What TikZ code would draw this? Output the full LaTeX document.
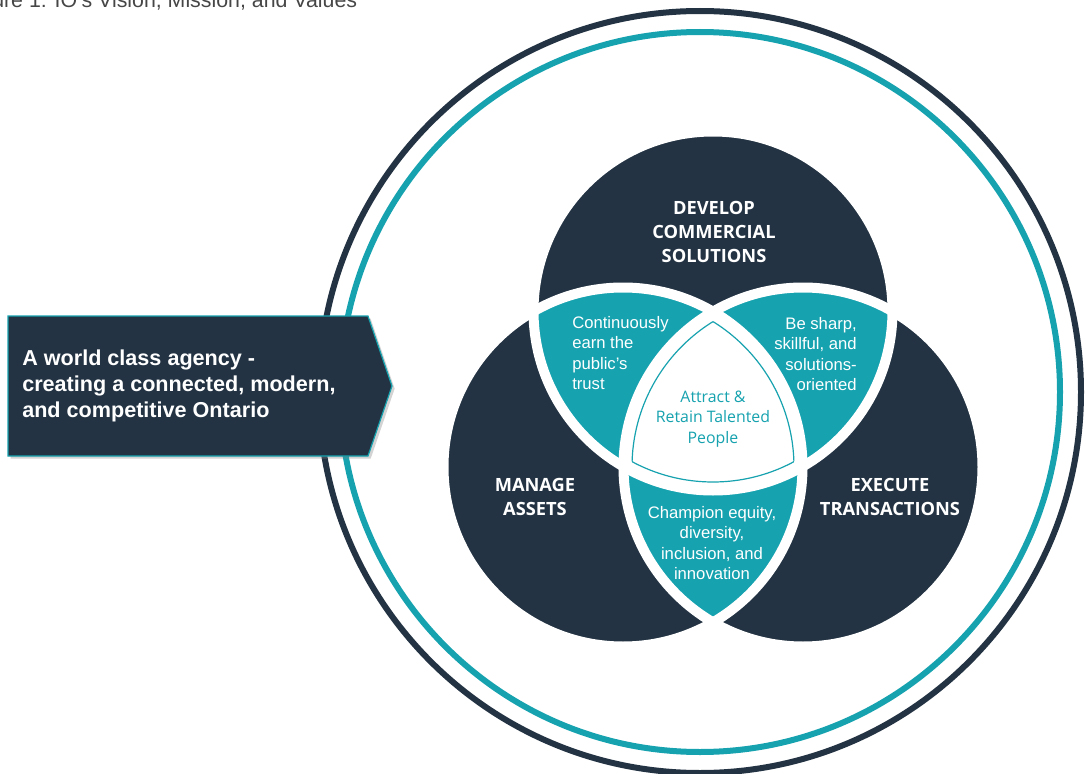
\documentclass[tikz,border=0pt]{standalone}
\usepackage{fontspec}
\setmainfont{Liberation Sans}
\newfontfamily\opensans{Open Sans}
\usetikzlibrary{shadows}
\definecolor{ionavy}{RGB}{35,51,67}
\definecolor{ioteal}{RGB}{22,162,175}
\definecolor{capgray}{RGB}{70,70,70}
\newcommand{\vennR}{179.5*0.75pt}
\newcommand{\vennRi}{171*0.75pt}

\begin{document}
\begin{tikzpicture}[x=0.75pt, y=-0.75pt, inner sep=0pt,
    heading/.style={text=white, align=center, font=\opensans\bfseries\fontsize{13.7}{18}\selectfont},
    value/.style={text=white, font=\fontsize{12.5}{15.4}\selectfont},
    gap/.style={white, line width=7.5pt}]
\useasboundingbox (0,0) rectangle (1086,774);
\clip (0,0) rectangle (1086,774);

\node[anchor=base west, text=capgray, font=\fontsize{16}{19}\selectfont] (title) at (-8,8) {ure 1: IO's Vision, Mission, and Values};

% outer rings
\draw[ionavy, line width=4.5pt] (700,392) circle[radius=381*0.75pt];
\draw[ioteal, line width=4.5pt] (700,392) circle[radius=360*0.75pt];

\coordinate (ctop) at (713,311);
\coordinate (cleft) at (623,467);
\coordinate (cright) at (803,467);

\foreach \ctr in {ctop,cleft,cright}
  \fill[ionavy] (\ctr) circle[radius=\vennR];
% overlaps
\begin{scope}
  \clip (ctop) circle[radius=\vennR];
  \fill[ioteal] (cleft) circle[radius=\vennR];
  \fill[ioteal] (cright) circle[radius=\vennR];
\end{scope}
\begin{scope}
  \clip (cleft) circle[radius=\vennR];
  \fill[ioteal] (cright) circle[radius=\vennR];
  \clip (cright) circle[radius=\vennR];
  \fill[white] (ctop) circle[radius=\vennR];
\end{scope}
\foreach \ctr in {ctop,cleft,cright}
  \draw[gap] (\ctr) circle[radius=\vennR];
% thin line round the middle
\foreach \ctr/\pa/\pb in {ctop/cleft/cright, cleft/ctop/cright, cright/ctop/cleft} {
  \begin{scope}
    \clip (\pa) circle[radius=\vennRi];
    \clip (\pb) circle[radius=\vennRi];
    \draw[ioteal, line width=0.9pt] (\ctr) circle[radius=\vennRi];
  \end{scope}
}

\node[heading] (develop) at (714,232) {DEVELOP\\COMMERCIAL\\SOLUTIONS};
\node[heading] (manage) at (535,497) {MANAGE\\ASSETS};
\node[heading] (execute) at (890,497) {EXECUTE\\TRANSACTIONS};

\node[value, align=left, anchor=west] (trust) at (572,353) {Continuously\\earn the\\public's\\trust};
\node[value, align=right, anchor=east] (sharp) at (857,354) {Be sharp,\\skillful, and\\solutions-\\oriented};
\node[value, align=center] (equity) at (712,543) {Champion equity,\\diversity,\\inclusion, and\\innovation};
\node[align=center, text=ioteal, font=\opensans\fontsize{11.9}{15.4}\selectfont] (people) at (713,419) {Attract \&\\Retain Talented\\People};

% arrow box
\fill[ionavy, draw=ioteal, line width=0.9pt, drop shadow={shadow xshift=2pt, shadow yshift=-2pt, opacity=0.35}]
  (8,316) -- (368,316) -- (392,386) -- (368,456) -- (8,456) -- cycle;
\node[anchor=west, align=left, text=white, font=\bfseries\fontsize{16.2}{19.5}\selectfont] (vision) at (22,386)
  {A world class agency -\\creating a connected, modern,\\and competitive Ontario};
\end{tikzpicture}
\end{document}
